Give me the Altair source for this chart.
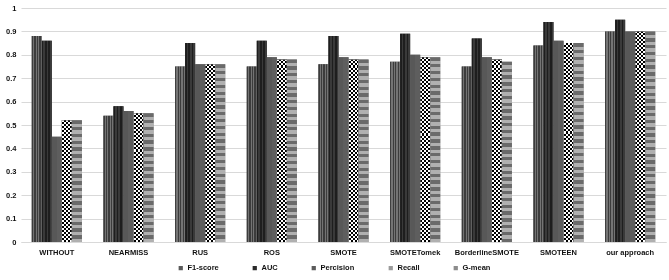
import altair as alt

# Resampling methods compared and their scores per metric
methods = ["WITHOUT", "NEARMISS", "RUS", "ROS", "SMOTE", "SMOTETomek",
           "BorderlineSMOTE", "SMOTEEN", "our approach"]
metrics = ["F1-score", "AUC", "Percision", "Recall", "G-mean"]

f1_score = [0.88, 0.54, 0.75, 0.75, 0.76, 0.77, 0.75, 0.84, 0.90]
auc = [0.86, 0.58, 0.85, 0.86, 0.88, 0.89, 0.87, 0.94, 0.95]
precision = [0.45, 0.56, 0.76, 0.79, 0.79, 0.80, 0.79, 0.86, 0.90]
recall = [0.52, 0.55, 0.76, 0.78, 0.78, 0.79, 0.78, 0.85, 0.90]
g_mean = [0.52, 0.55, 0.76, 0.78, 0.78, 0.79, 0.77, 0.85, 0.90]

series = [f1_score, auc, precision, recall, g_mean]

PLOT_W, PLOT_H = 645, 234
solid_colors = ["#5a5a5a", "#2a2a2a", "#5c5c5c", "#9a9a9a", "#8c8c8c"]


def stripes(c1, c2, n, vertical):
    """Hard-edged linear gradient made of n alternating bands."""
    stops = []
    for i in range(n):
        col = c1 if i % 2 == 0 else c2
        stops.append({"offset": i / n, "color": col})
        stops.append({"offset": (i + 1) / n, "color": col})
    if vertical:
        return {"gradient": "linear", "x1": 0, "y1": 0, "x2": 1, "y2": 0, "stops": stops}
    return {"gradient": "linear", "x1": 0, "y1": 0, "x2": 0, "y2": 1, "stops": stops}


def texture(metric, value):
    bar_px = value * PLOT_H
    if metric == "F1-score":
        return stripes("#3c3c3c", "#747474", 8, True)
    if metric == "AUC":
        return stripes("#1e1e1e", "#3a3a3a", 6, True)
    if metric == "Percision":
        return stripes("#585858", "#5e5e5e", 2, True)
    if metric == "Recall":
        return stripes("#000000", "#ffffff", max(2, int(round(bar_px / 2.0))), False)
    return stripes("#6a6a6a", "#b0b0b0", max(2, int(round(bar_px / 3.4))), False)


# vertical bands that turn the Recall stripes into a checkerboard
# when composited with a "difference" blend
checker_cols = stripes("#ffffff", "#000000", 5, True)

records = []
for m_i, metric in enumerate(metrics):
    for c_i, method in enumerate(methods):
        v = series[m_i][c_i]
        records.append({"method": method, "metric": metric, "value": v,
                        "pattern": texture(metric, v),
                        "overlay": checker_cols})

data = alt.Data(values=records)

label_font = "Liberation Sans"

base = alt.Chart(data).encode(
    x=alt.X("method:N", sort=methods, title=None,
            scale=alt.Scale(paddingInner=0.3, paddingOuter=0.15),
            axis=alt.Axis(labelAngle=0, ticks=False, domain=True,
                          domainColor="#d9d9d9", grid=False,
                          labelFont=label_font, labelFontWeight="bold",
                          labelFontSize=7.5, labelColor="#111111",
                          labelPadding=6)),
    xOffset=alt.XOffset("metric:N", sort=metrics,
                        scale=alt.Scale(paddingInner=0, paddingOuter=0)),
    y=alt.Y("value:Q", title=None,
            scale=alt.Scale(domain=[0, 1]),
            axis=alt.Axis(values=[i / 10 for i in range(11)],
                          labelExpr="format(datum.value, '~g')",
                          ticks=False, domain=False, grid=True,
                          gridColor="#d9d9d9", gridWidth=1,
                          labelFont=label_font, labelFontWeight="bold",
                          labelFontSize=7.5, labelColor="#111111",
                          labelPadding=5)),
)

solid = base.mark_bar().encode(
    color=alt.Color("metric:N", sort=metrics,
                    scale=alt.Scale(domain=metrics, range=solid_colors),
                    legend=alt.Legend(orient="none", legendX=156, legendY=256,
                                      direction="horizontal", title=None,
                                      symbolType="square", symbolSize=18,
                                      symbolStrokeWidth=0,
                                      labelFont=label_font,
                                      labelFontWeight="bold",
                                      labelFontSize=7.5, labelColor="#111111",
                                      columnPadding=32, labelOffset=3))
)

textured = base.mark_bar().encode(
    fill=alt.Fill("pattern:N", scale=None)
)

checker = base.mark_bar(blend="difference").encode(
    fill=alt.Fill("overlay:N", scale=None)
).transform_filter(alt.datum.metric == "Recall")

chart = alt.layer(solid, textured, checker).properties(
    width=PLOT_W, height=PLOT_H,
    autosize=alt.AutoSizeParams(type="none"),
    padding={"left": 21, "top": 8, "right": 3, "bottom": 38},
    background="white",
).configure_view(stroke=None)

chart.save("out.html", embed_options={"renderer": "svg", "actions": False})
